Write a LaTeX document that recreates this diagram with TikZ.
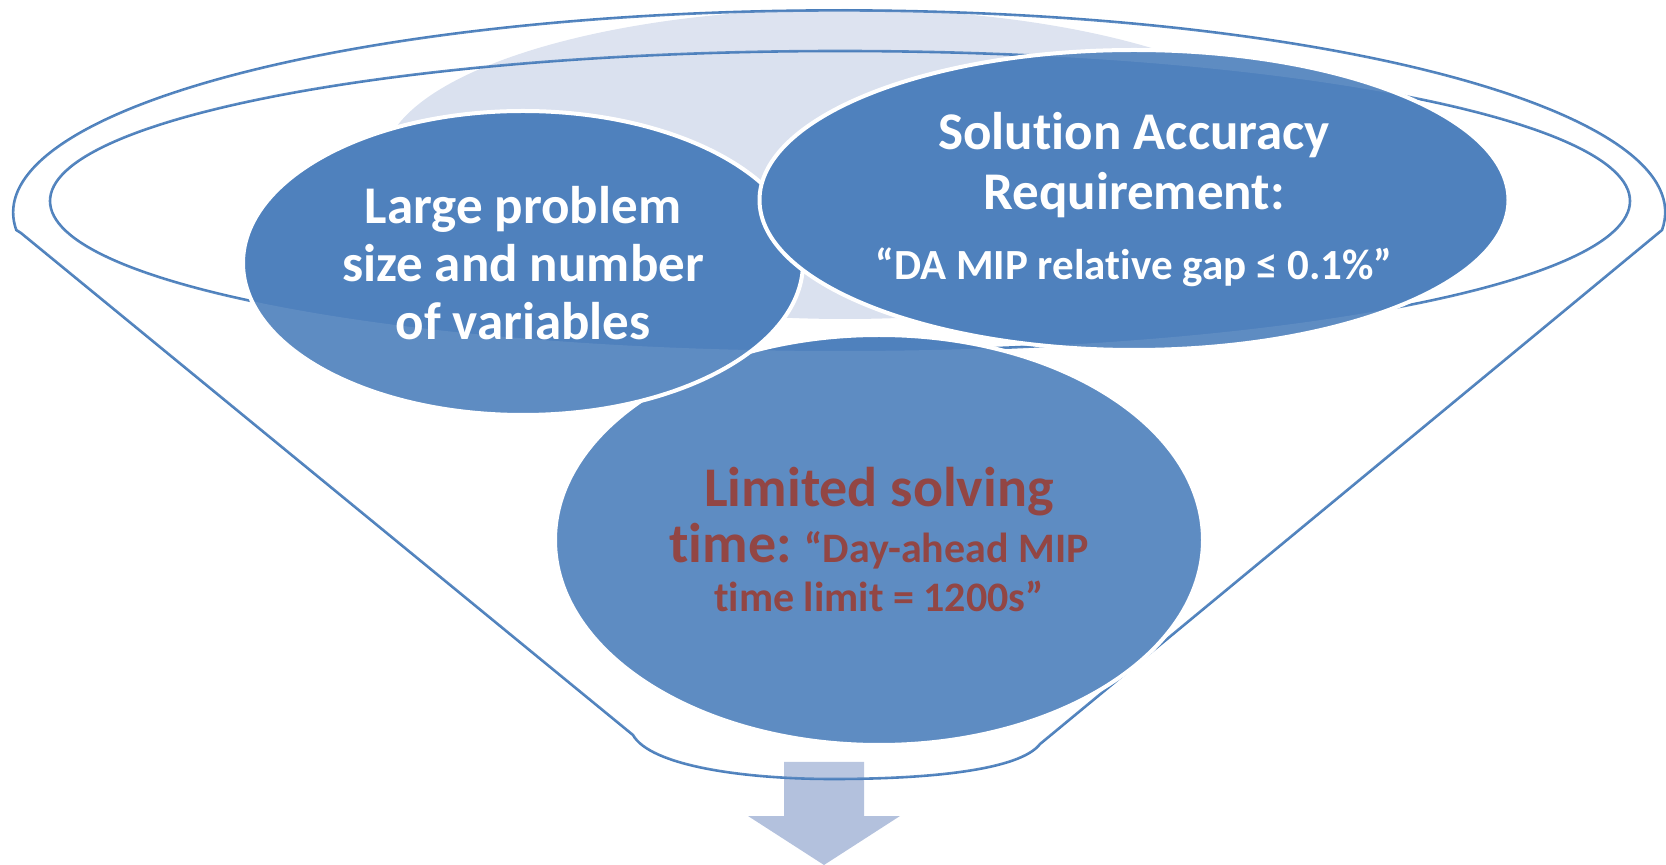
\documentclass[tikz,border=0pt]{standalone}
\usepackage{fontspec}
\setmainfont{Carlito}[Ligatures=NoCommon]
\usetikzlibrary{shapes.geometric}
\definecolor{accent}{RGB}{79,129,189}
\definecolor{funnelline}{RGB}{74,126,187}
\definecolor{lightfill}{RGB}{218,225,239}
\definecolor{arrowfill}{RGB}{179,193,221}
\definecolor{darkred}{RGB}{136,52,50}
\tikzset{
  funnel/.style={draw=funnelline, line width=1.3pt},
  bubble/.style={ellipse, fill=accent, draw=white, line width=2pt, inner sep=0pt,
    align=center, text=white, font=\fontsize{26.5}{29}\selectfont\bfseries},
}
\begin{document}
\begin{tikzpicture}[x=0.5pt,y=-0.5pt]
\useasboundingbox (0,0) rectangle (1666,865);
% faint background circle
\fill[lightfill] (845,164) ellipse [x radius=462, y radius=155];
% output arrow
\fill[arrowfill] (784,762) -- (864,762) -- (864,816) -- (900,816) -- (824,865) -- (748,816) -- (784,816) -- cycle;
% funnel outline
\draw[funnel] (21,233) -- (633,735) .. controls (650,765) and (740,779) .. (833,779)
  .. controls (930,779) and (1020,770) .. (1040,744) -- (1662,230)
  arc[start angle=5, end angle=-185, x radius=826, y radius=202] -- cycle;
\draw[funnel] (840,201) ellipse [x radius=790, y radius=150];
% circles
\node[bubble, minimum width=324pt, minimum height=205pt, text=darkred,
      font=\fontsize{28}{28}\selectfont\bfseries] (time) at (879,540)
  {Limited solving\\time:{\fontsize{21}{24}\selectfont{} “Day-ahead MIP}\\[-3.5pt]{\fontsize{21}{24}\selectfont time limit = 1200s”}};
\node[bubble, minimum width=280pt, minimum height=152pt] (size) at (523,263)
  {Large problem\\size and number\\of variables};
\node[bubble, minimum width=374.5pt, minimum height=150pt,
      font=\fontsize{26.5}{30}\selectfont\bfseries] (acc) at (1134,200)
  {Solution Accuracy\\Requirement:\\[5pt]{\fontsize{21.5}{24}\selectfont “DA MIP relative gap ≤ 0.1\%”}};
% translucent funnel body
\fill[white, opacity=0.09, even odd rule] (21,233) -- (633,735) .. controls (650,765) and (740,779) .. (833,779)
  .. controls (930,779) and (1020,770) .. (1040,744) -- (1662,230)
  arc[start angle=5, end angle=-185, x radius=826, y radius=202] -- cycle
  (840,201) ellipse [x radius=790, y radius=150];
\end{tikzpicture}
\end{document}
